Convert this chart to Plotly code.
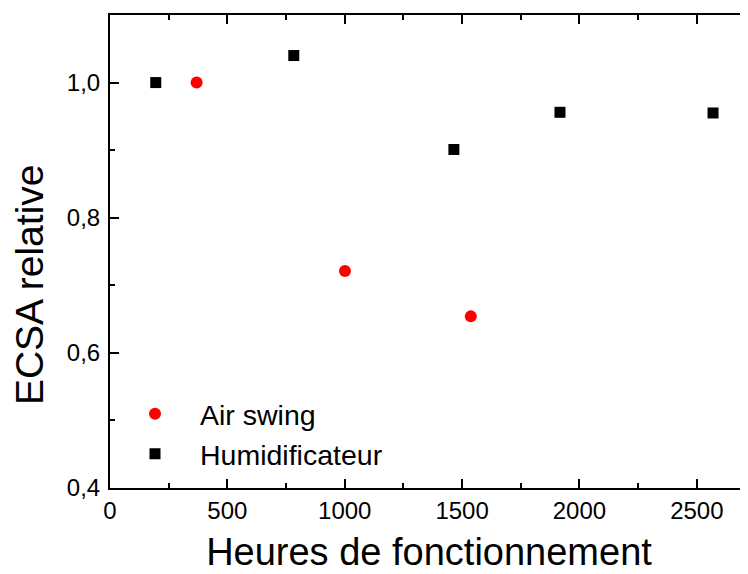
import plotly.graph_objects as go

# Data
air_swing_hours = [369, 1001, 1537]
air_swing_ecsa = [1.0, 0.721, 0.654]
humid_hours = [195, 783, 1465, 1917, 2569]
humid_ecsa = [1.0, 1.04, 0.901, 0.956, 0.955]

FONT = "Liberation Sans, Arial, sans-serif"

fig = go.Figure()
fig.add_trace(go.Scatter(
    x=air_swing_hours, y=air_swing_ecsa, mode="markers", name="Air swing",
    marker=dict(symbol="circle", size=12, color="#ff0000", line=dict(width=0)),
))
fig.add_trace(go.Scatter(
    x=humid_hours, y=humid_ecsa, mode="markers", name="Humidificateur",
    marker=dict(symbol="square", size=11, color="#000000", line=dict(width=0)),
))

axis_common = dict(
    showline=True, linecolor="black", linewidth=2,
    ticks="inside", ticklen=9, tickwidth=2, tickcolor="black",
    showgrid=False, zeroline=False,
    tickfont=dict(family=FONT, size=24, color="black"),
)

fig.update_xaxes(
    **axis_common,
    range=[0, 2718], dtick=500, tick0=0, mirror="ticks",
    minor=dict(ticks="inside", ticklen=5, tickwidth=2, tickcolor="black", dtick=250, tick0=0),
    title=dict(text="Heures de fonctionnement", font=dict(family=FONT, size=38, color="black"), standoff=16),
)
fig.update_yaxes(
    **axis_common,
    range=[0.4, 1.1], dtick=0.2, tick0=0.4, tickformat=".1f", mirror=False,
    minor=dict(ticks="inside", ticklen=5, tickwidth=2, tickcolor="black", dtick=0.1, tick0=0.4),
    ticklabelstandoff=3,
)

fig.add_annotation(
    text="ECSA relative", textangle=-90, showarrow=False,
    xref="paper", yref="paper", x=-0.127, y=0.431, xanchor="center", yanchor="middle",
    font=dict(family=FONT, size=39, color="black"),
)

fig.update_layout(
    width=740, height=566,
    margin=dict(l=102, r=0, t=7, b=86, autoexpand=False),
    paper_bgcolor="white", plot_bgcolor="white",
    separators=",.",
    showlegend=True,
    legend=dict(
        x=0.0, y=0.21, xanchor="left", yanchor="top",
        bgcolor="rgba(0,0,0,0)", borderwidth=0,
        font=dict(family=FONT, size=28.5, color="black"),
        itemwidth=80, tracegroupgap=0,
    ),
)

fig.write_html("out.html")
